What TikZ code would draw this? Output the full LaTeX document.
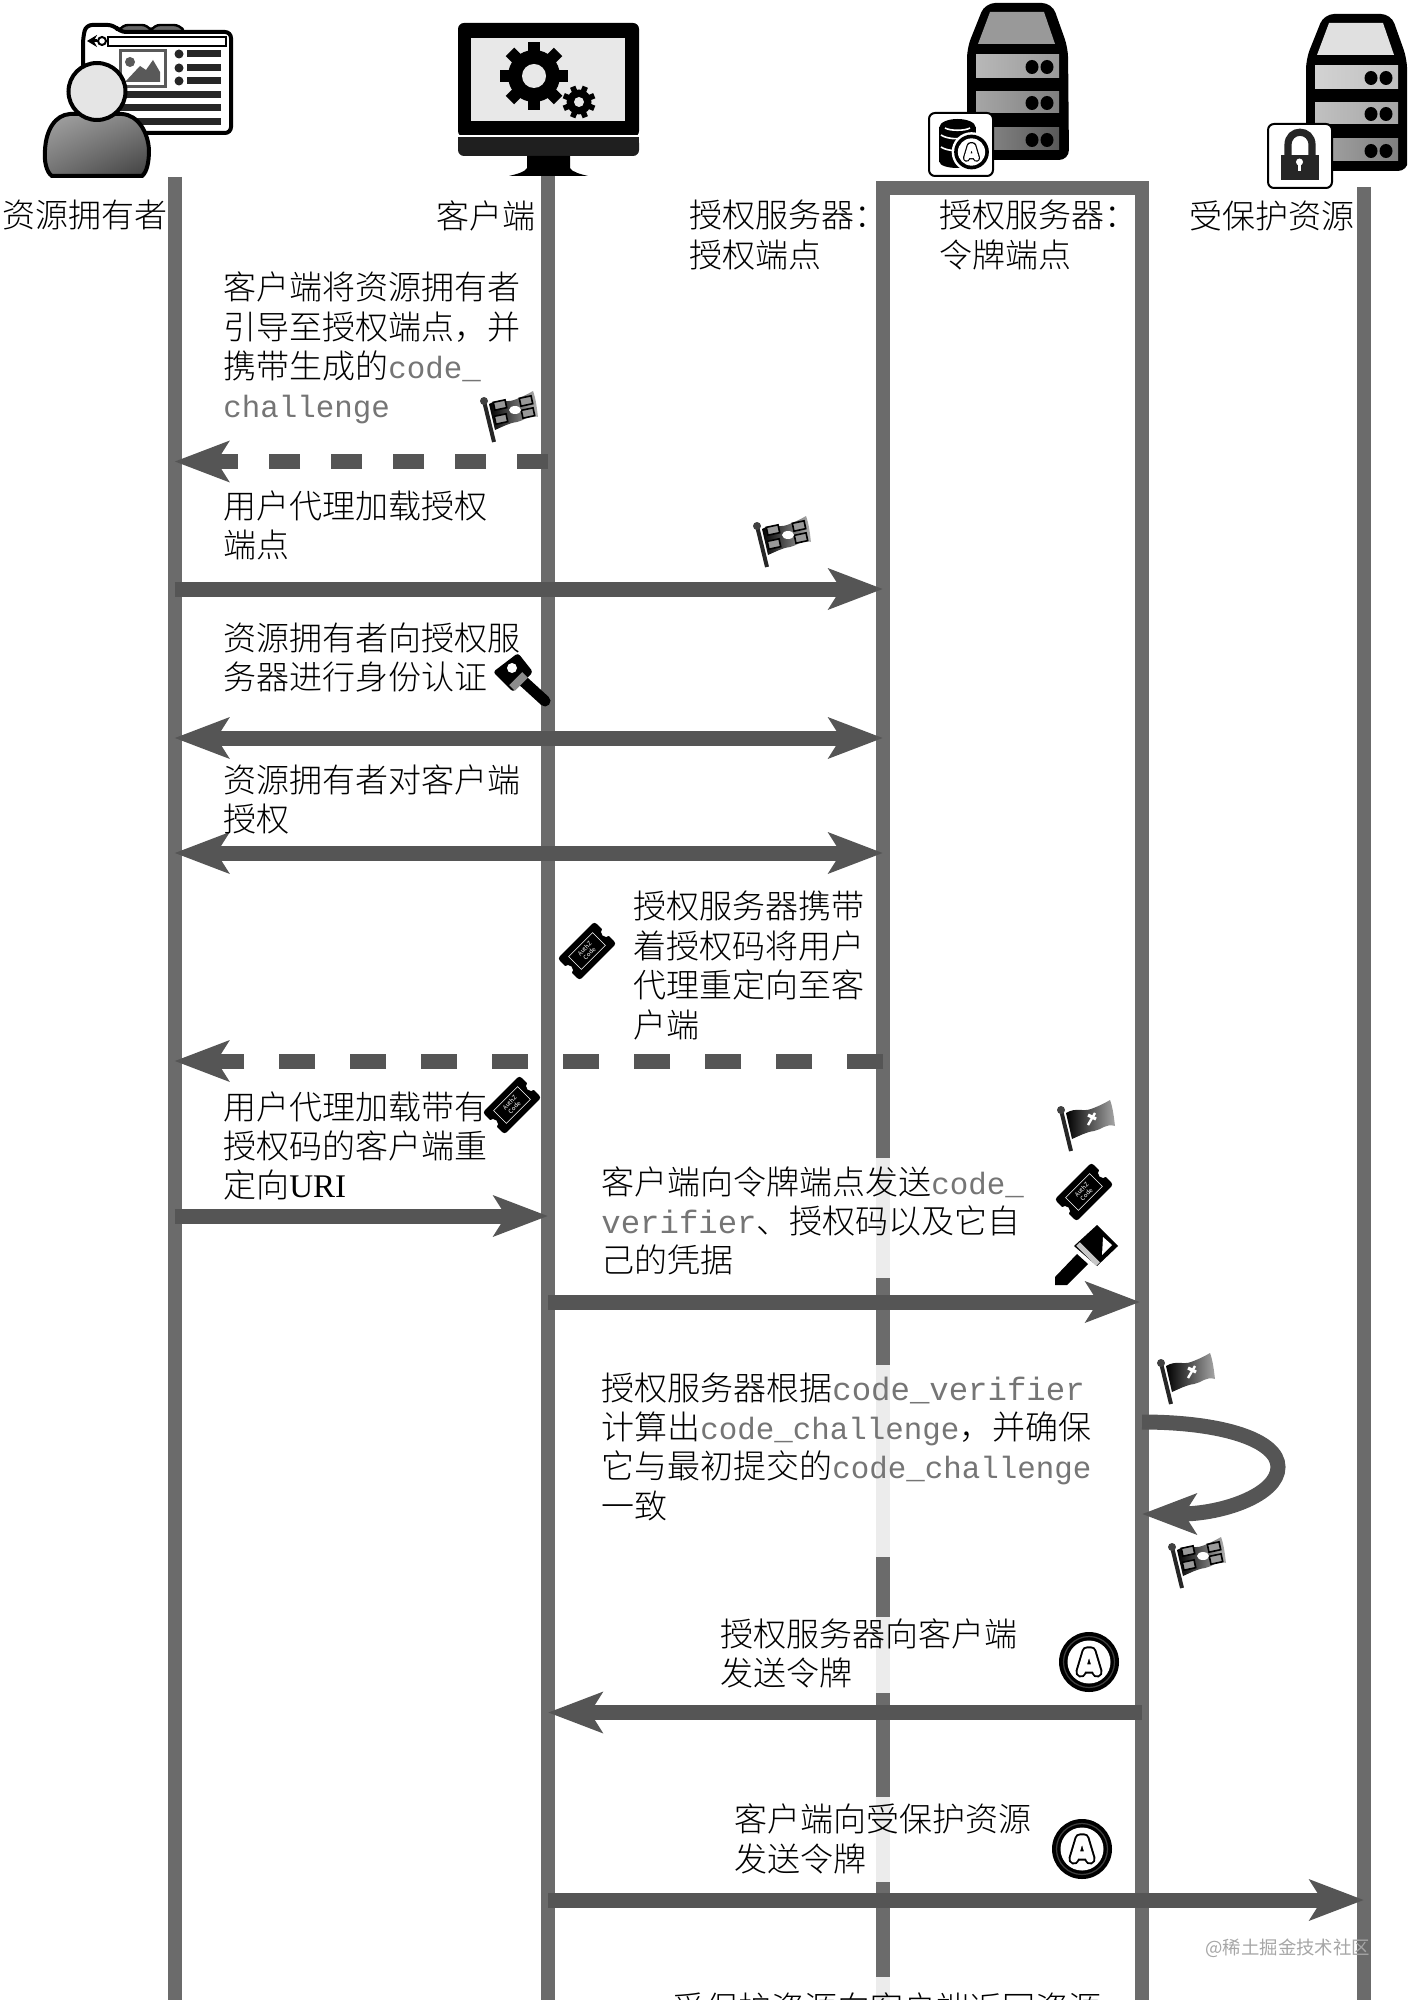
\documentclass[tikz,border=0pt]{standalone}
\usepackage{fontspec}
\usetikzlibrary{arrows.meta,shadings}
\setmainfont{Noto Sans CJK SC Light}
\newfontfamily\cjkreg{Noto Sans CJK SC}
\newfontfamily\monoA[Scale=0.934]{Liberation Mono}
\newfontfamily\monoB[Scale=0.98]{Liberation Mono}
\newfontfamily\lserif{Liberation Serif}
\definecolor{lifeC}{HTML}{6B6B6B}
\definecolor{arrC}{HTML}{555555}
\definecolor{codeC}{HTML}{757575}
\definecolor{patchC}{HTML}{ECECEC}
\newcommand\cd[1]{{\monoA\color{codeC}#1}}
\newcommand\cdw[1]{{\monoB\color{codeC}#1}}
\newcommand\fwcomma{\symbol{"FF0C}}
\newcommand\fwcolon{\symbol{"FF1A}}
\newcommand\flagbody{(5,3) .. controls (15,-3) and (22,2) .. (30,-1) .. controls (38,-4) and (44,-7) .. (49,-10) .. controls (52,-2) and (53,8) .. (54,16) .. controls (45,13) and (40,20) .. (33,21) .. controls (25,22) and (18,26) .. (11,29) -- cycle}
\newcommand\flagpole{\draw[black!85,line width=2pt] (0,0) -- (10,41); \fill[black!75] (0,0) circle[radius=4];}
\newcommand\flagver[2]{\begin{scope}[shift={(#1,#2)}]
  \flagpole
  \shade[left color=black,middle color=black,right color=black!35] \flagbody;
  \draw[white,line width=1.2pt] (27,15) -- (34,3);
  \draw[white,line width=1.6pt] (27,5) -- (35,9);
\end{scope}}
\newcommand\flagchal[2]{\begin{scope}[shift={(#1,#2)}]
  \flagpole
  \shade[left color=black,middle color=black!80,right color=black!30] \flagbody;
  \foreach \a/\b in {16/4,42/0,17/18,44/12}{\draw[black,fill=black!40,line width=.8pt,rotate around={12:(\a,\b)}] (\a-6,\b-4) rectangle (\a+6,\b+4);}
  \fill[white] (31,9) circle[x radius=6,y radius=4];
\end{scope}}
\newcommand\ticket[3]{\begin{scope}[shift={(#1,#2)},rotate=45]
  \fill[black,rounded corners=1.5pt] (-26,-15.5) rectangle (26,15.5);
  \fill[white] (-27,0) circle[radius=5] (27,0) circle[radius=5];
  \draw[white,line width=.3pt] (-17,-9) rectangle (17,9);
  \node[transform shape,text=white,inner sep=0,align=center,font=\cjkreg\fontsize{3}{3.4}\selectfont] (#3) at (0,0) {AuthZ\\Code};
\end{scope}}
\newcommand\tokenA[2]{\begin{scope}[shift={(#1,#2)}]
  \fill[black] (0,0) circle[radius=30];
  \draw[black!75,line width=.6pt] (0,0) circle[radius=25.5];
  \fill[white] (0,0) circle[radius=21.5];
  \draw[black,line width=5.6pt,line join=round,line cap=round] (-8,10) -- (-2,-10) -- (2,-10) -- (8,10) (-6,6) -- (6,6);
  \draw[white,line width=3.6pt,line join=round,line cap=round] (-8,10) -- (-2,-10) -- (2,-10) -- (8,10) (-6,6) -- (6,6);
\end{scope}}
\newcommand\serverstack[6]{\begin{scope}[shift={(#1,#2)}]
  \fill[black,rounded corners=5pt] (985,3) -- (1052,3) -- (1068,48) -- (1069,160) -- (967,160) -- (967,48) -- cycle;
  \fill[black!#3] (990,12) -- (1044,12) -- (1055,44) -- (978,44) -- cycle;
  \shade[left color=black!#4!white!70,right color=black!#4] (976,55) rectangle (1059,78);
  \shade[left color=black!#5!white!70,right color=black!#5] (976,92) rectangle (1059,113);
  \shade[left color=black!#6!white!70,right color=black!#6] (976,128) rectangle (1059,150);
  \foreach \yy in {67,103,140}{\fill[black] (1032,\yy) circle[x radius=6.5,y radius=7] (1047,\yy) circle[x radius=6.5,y radius=7];}
\end{scope}}
\tikzset{
  lifeline/.style={draw=lifeC,line width=7pt},
  flow/.style={draw=arrC,line width=7.5pt},
  tipped/.style={>={Stealth[length=27pt,width=20pt,inset=6pt]}},
  msg/.style={anchor=north west,inner sep=0,align=left,font=\fontsize{16.5}{19.7}\selectfont,text=black},
  patch/.style={fill=patchC},
  badge/.style={draw=black,fill=white,line width=1pt,rounded corners=3pt},
}
\begin{document}
\begin{tikzpicture}[x=0.5pt,y=-0.5pt,tipped,line cap=butt]
\useasboundingbox (0,0) rectangle (1407,2000);
\clip (0,0) rectangle (1407,2000);
% lifeline anchors
\coordinate (ownerTop) at (174.5,177);
\coordinate (ownerEnd) at (174.5,2000);
\coordinate (clientTop) at (548,170);
\coordinate (clientEnd) at (548,2000);
\coordinate (authEnd) at (883,2000);
\coordinate (frameTL) at (883,188.5);
\coordinate (frameTR) at (1142,188.5);
\coordinate (tokenEnd) at (1142,2000);
\coordinate (resTop) at (1364,187);
\coordinate (resEnd) at (1364,2000);
\draw[lifeline] (ownerTop) -- (ownerEnd);
\draw[lifeline] (clientTop) -- (clientEnd);
\draw[lifeline,line join=miter] (authEnd) -- (frameTL) -- (frameTR) -- (tokenEnd);
\draw[lifeline] (resTop) -- (resEnd);
% patches of the auth line behind text
\foreach \a/\b in {1158/1278,1365/1557,1617/1693,1797/1882,1977/2000}{\fill[patch] (876,\a) rectangle (890,\b);}
% message anchors
\coordinate (m1s) at (548,461.5); \coordinate (m1e) at (174.5,461.5);
\coordinate (m2s) at (174.5,589); \coordinate (m2e) at (883,589);
\coordinate (m3s) at (174.5,738); \coordinate (m3e) at (883,738);
\coordinate (m4s) at (174.5,853); \coordinate (m4e) at (883,853);
\coordinate (m5s) at (883,1061); \coordinate (m5e) at (174.5,1061);
\coordinate (m6s) at (174.5,1216); \coordinate (m6e) at (548,1216);
\coordinate (m7s) at (548,1302); \coordinate (m7e) at (1140,1302);
\coordinate (m8s) at (1142,1422); \coordinate (m8m) at (1278,1467); \coordinate (m8e) at (1142,1514);
\coordinate (m9s) at (1142,1712.5); \coordinate (m9e) at (548,1712.5);
\coordinate (m10s) at (548,1900); \coordinate (m10e) at (1364,1900);
\draw[flow,->,dash pattern=on 15.5pt off 15.5pt] (m1s) -- (m1e);
\draw[flow,->] (m2s) -- (m2e);
\draw[flow,<->] (m3s) -- (m3e);
\draw[flow,<->] (m4s) -- (m4e);
\draw[flow,->,dash pattern=on 18pt off 17.5pt] (m5s) -- (m5e);
\draw[flow,->] (m6s) -- (m6e);
\draw[flow,->] (m7s) -- (m7e);
\draw[flow,->] (m8s) .. controls (1222,1422) and (1278,1440) .. (m8m) .. controls (1278,1495) and (1222,1514) .. (m8e);
\draw[flow,->] (m9s) -- (m9e);
\draw[flow,->] (m10s) -- (m10e);
% header labels
\node[msg] (hOwner) at (2,200) {资源拥有者};
\node[msg] (hClient) at (436,200) {客户端};
\node[msg] (hAuth) at (689,200) {授权服务器\fwcolon\\授权端点};
\node[msg] (hToken) at (939,200) {授权服务器\fwcolon\\令牌端点};
\node[msg] (hRes) at (1189,200) {受保护资源};
% messages
\node[msg] (t1) at (223,271.5) {客户端将资源拥有者\\引导至授权端点\fwcomma 并\\携带生成的\cd{code\_}\\\cd{challenge}};
\node[msg] (t2) at (223,490) {用户代理加载授权\\端点};
\node[msg] (t3) at (223,622) {资源拥有者向授权服\\务器进行身份认证};
\node[msg] (t4) at (223,764) {资源拥有者对客户端\\授权};
\node[msg] (t5) at (633,891) {授权服务器携带\\着授权码将用户\\代理重定向至客\\户端};
\node[msg] (t6) at (223,1091) {用户代理加载带有\\授权码的客户端重\\定向{\lserif URI}};
\node[msg] (t7) at (601,1166) {客户端向令牌端点发送\cd{code\_}\\\cdw{verifier}、授权码以及它自\\己的凭据};
\node[msg] (t8) at (601,1372) {授权服务器根据\cdw{code\_verifier}\\计算出\cd{code\_challenge}\fwcomma 并确保\\它与最初提交的\cd{code\_challenge}\\一致};
\node[msg] (t9) at (720,1618) {授权服务器向客户端\\发送令牌};
\node[msg] (t10) at (734,1803.5) {客户端向受保护资源\\发送令牌};
\node[msg] (t11) at (672,1992) {受保护资源向客户端返回资源};
% small icons
\flagchal{484}{401}
\flagchal{757}{526}
\flagver{1061}{1110}
\flagver{1161}{1363}
\flagchal{1172}{1547}
\ticket{587}{951}{tk1}
\ticket{512}{1105}{tk2}
\ticket{1084}{1192}{tk3}
\tokenA{1089}{1662}
\tokenA{1082}{1849}
% key 1
\fill[black,rounded corners=1.5pt] (493,672) -- (518,653) -- (533,672) -- (513,692) -- cycle;
\draw[black,line width=5.5pt,line cap=round] (522,680) -- (545,701);
\fill[white] (512,668) circle[radius=5];
\draw[black!45,line width=4pt] (512,688) -- (525,675);
% key 2
\fill[black] (1097,1225) -- (1118,1246) -- (1097,1266) -- (1074,1246) -- cycle;
\fill[black] (1077,1254) -- (1088,1264) -- (1067,1285) -- (1055,1285) -- (1055,1277) -- cycle;
\draw[black!22,line width=2.6pt] (1078,1244) -- (1098,1264);
\fill[white] (1102,1255) -- (1112,1245) -- (1103,1237) -- cycle;
% resource owner icon
\fill[black!60,draw=black,line width=1.2pt,rounded corners=3pt] (118,33) -- (122,25) -- (148,25) -- (152,33) -- cycle;
\fill[black!60,draw=black,line width=1.2pt,rounded corners=3pt] (150,33) -- (154,25) -- (180,25) -- (185,33) -- cycle;
\draw[black,fill=white,line width=2pt,rounded corners=3pt] (83,133) -- (83,38) -- (86,25) -- (114,25) -- (120,32) -- (231,32) -- (231,133) -- cycle;
\draw[black,line width=1pt] (108,37) rectangle (226,46);
\draw[black,line width=1.5pt,-{Stealth[length=5pt,width=6pt]}] (97,41) -- (87,41);
\draw[black,line width=1pt] (102,41) circle[radius=4];
\draw[black!65,line width=1.5pt] (120,51) rectangle (165,87);
\fill[black!65] (125,82) -- (140,66) -- (146,70) -- (153,60) -- (160,72) -- (160,82) -- cycle;
\fill[black!65] (130,62) circle[radius=5];
\foreach \yy in {54,68,81}{\fill[black!85] (179,\yy) circle[radius=4.5]; \fill[black!85] (187,\yy-3.5) rectangle (221,\yy+3.5);}
\foreach \yy in {95,108,122}{\fill[black!85] (115,\yy-3.5) rectangle (221,\yy+3.5);}
\shade[upper left=black!35,upper right=black!50,lower left=black!55,lower right=black!75]
  (52,176) .. controls (46,172) and (44,160) .. (45,150) .. controls (46,130) and (55,115) .. (70,114) -- (122,114) .. controls (138,115) and (148,132) .. (149,150) .. controls (149,162) and (147,172) .. (142,176) -- cycle;
\draw[black,line width=2pt] (52,176) .. controls (46,172) and (44,160) .. (45,150) .. controls (46,130) and (55,115) .. (70,114) -- (122,114) .. controls (138,115) and (148,132) .. (149,150) .. controls (149,162) and (147,172) .. (142,176) -- cycle;
\draw[black,fill=black!10,line width=2pt] (97,91.5) circle[x radius=28.5,y radius=28.5];
% client icon
\fill[black,rounded corners=3pt] (458,23) rectangle (639,137);
\fill[black!88,rounded corners=3pt] (458,137) rectangle (639,156);
\fill[black!88] (458,137) rectangle (639,145);
\draw[white,line width=.7pt] (458,136) -- (639,136);
\fill[black] (527,156) -- (570,156) -- (570,168) .. controls (572,172) and (580,174) .. (588,176) -- (509,176) .. controls (517,174) and (525,172) .. (527,168) -- cycle;
\fill[black!9] (471,38) rectangle (625,121);
\foreach \an in {0,45,...,315}{\draw[black,line width=6pt] (534,76) -- ++(\an:34);}
\fill[black] (534,76) circle[radius=26];
\fill[black!9] (534,76) circle[radius=12];
\foreach \an in {22.5,67.5,...,337.5}{\draw[black,line width=2.8pt] (579,102) -- ++(\an:16.5);}
\fill[black] (579,102) circle[radius=12.5];
\fill[black!9] (579,102) circle[radius=5];
% servers
\serverstack{0}{0}{40}{40}{50}{65}
\serverstack{339}{11}{12}{25}{35}{50}
% badges
\draw[badge] (929,113) rectangle (993,176);
\fill[black] (939,127) rectangle (976,162);
\fill[black] (957.5,127) circle[x radius=18,y radius=8] (957.5,162) circle[x radius=18,y radius=6];
\draw[white,line width=.8pt] (941,135) .. controls (948,140) and (966,140) .. (974,135);
\draw[white,line width=.8pt] (941,147) .. controls (948,152) and (966,152) .. (974,147);
\draw[white,line width=.8pt] (945,128) .. controls (950,131) and (965,131) .. (970,128);
\begin{scope}[shift={(971.5,152)},scale=.62]
  \fill[white] (0,0) circle[radius=32];
  \fill[black] (0,0) circle[radius=28];
  \fill[white] (0,0) circle[radius=22];
  \draw[black,line width=3.6pt,line join=round,line cap=round] (-8,10) -- (-2,-10) -- (2,-10) -- (8,10) (-6,6) -- (6,6);
  \draw[white,line width=2.4pt,line join=round,line cap=round] (-8,10) -- (-2,-10) -- (2,-10) -- (8,10) (-6,6) -- (6,6);
\end{scope}
\draw[badge] (1268,124) rectangle (1332,188);
\draw[black!85,line width=3.6pt] (1288,156) -- (1288,145) .. controls (1288,128) and (1312,128) .. (1312,145) -- (1312,156);
\fill[black!85] (1280.5,155) rectangle (1319,180);
\fill[white] (1299.5,162) circle[radius=3.5];
\fill[white] (1298,163) rectangle (1301,171);
% watermark
\node[anchor=west,inner sep=0,text=black!35,font=\cjkreg\fontsize{9.2}{11}\selectfont] (wm) at (1205,1948) {@稀土掘金技术社区};
\end{tikzpicture}
\end{document}
